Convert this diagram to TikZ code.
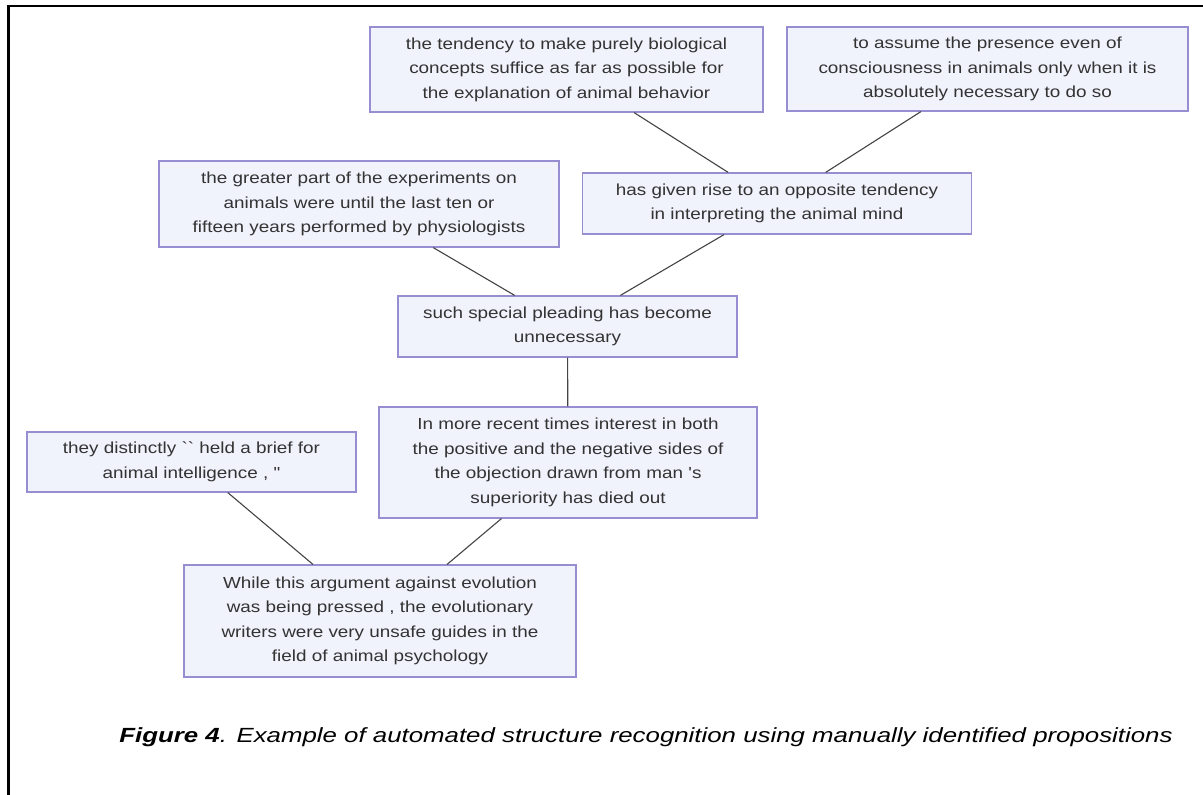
\documentclass[tikz,border=0pt]{standalone}
\usepackage{fontspec}
\setmainfont{Liberation Sans}[Ligatures=ResetAll]
\newfontfamily\boxfont{Liberation Sans}[FakeStretch=1.18, Ligatures=ResetAll]
\newfontfamily\capfont{Liberation Sans}[FakeStretch=1.26, Ligatures=ResetAll]
\definecolor{boxborder}{RGB}{150,142,208}
\definecolor{boxfill}{RGB}{240,242,252}
\definecolor{boxtext}{RGB}{51,51,51}
\definecolor{linkcol}{RGB}{68,68,68}
\tikzset{
  prop/.style={draw=boxborder, fill=boxfill, line width=1.2pt, rectangle, inner sep=0pt,
    align=center, text=boxtext, font=\boxfont\fontsize{16}{24.5}\selectfont},
  link/.style={draw=linkcol, line width=1.1pt},
  frameline/.style={draw=black, line width=2.6pt}
}
\begin{document}
\begin{tikzpicture}[x=1pt,y=-1pt]
\useasboundingbox (0,0) rectangle (1203,795);
\fill[white] (0,0) rectangle (1203,795);
\coordinate (ftl) at (8.5,6);
\coordinate (ftr) at (1203,6);
\coordinate (fbl) at (8.5,795);
\draw[frameline] (ftr) -- (ftl) -- (fbl);

\node[prop, minimum width=393pt, minimum height=85pt] (A) at (566.5,69.5)
  {the tendency to make purely biological\\concepts suffice as far as possible for\\the explanation of animal behavior};
\node[prop, minimum width=401pt, minimum height=84pt] (B) at (987.5,69)
  {to assume the presence even of\\consciousness in animals only when it is\\absolutely necessary to do so};
\node[prop, minimum width=400pt, minimum height=86pt] (C) at (359,204)
  {the greater part of the experiments on\\animals were until the last ten or\\fifteen years performed by physiologists};
\node[prop, minimum width=389pt, minimum height=61pt] (D) at (777,203.5)
  {has given rise to an opposite tendency\\in interpreting the animal mind};
\node[prop, minimum width=339pt, minimum height=61pt] (E) at (567.5,326.5)
  {such special pleading has become\\unnecessary};
\node[prop, minimum width=378pt, minimum height=111pt] (F) at (568,462.5)
  {In more recent times interest in both\\the positive and the negative sides of\\the objection drawn from man 's\\superiority has died out};
\node[prop, minimum width=329pt, minimum height=60pt] (G) at (191.5,462)
  {they distinctly \symbol{"60}\symbol{"60} held a brief for\\animal intelligence , \symbol{"22}};
\node[prop, minimum width=392pt, minimum height=112pt] (H) at (380,621)
  {While this argument against evolution\\was being pressed , the evolutionary\\writers were very unsafe guides in the\\field of animal psychology};

\draw[link] (A) -- (D);
\draw[link] (B) -- (D);
\draw[link] (C) -- (E);
\draw[link] (D) -- (E);
\draw[link] (E) -- (F);
\draw[link] (G) -- (H);
\draw[link] (F) -- (H);

\node[anchor=base, inner sep=0pt, text=black, font=\capfont\fontsize{20.5}{25}\selectfont\itshape] (cap) at (646,742)
  {\textbf{Figure 4}. Example of automated structure recognition using manually identified propositions};
\end{tikzpicture}
\end{document}
